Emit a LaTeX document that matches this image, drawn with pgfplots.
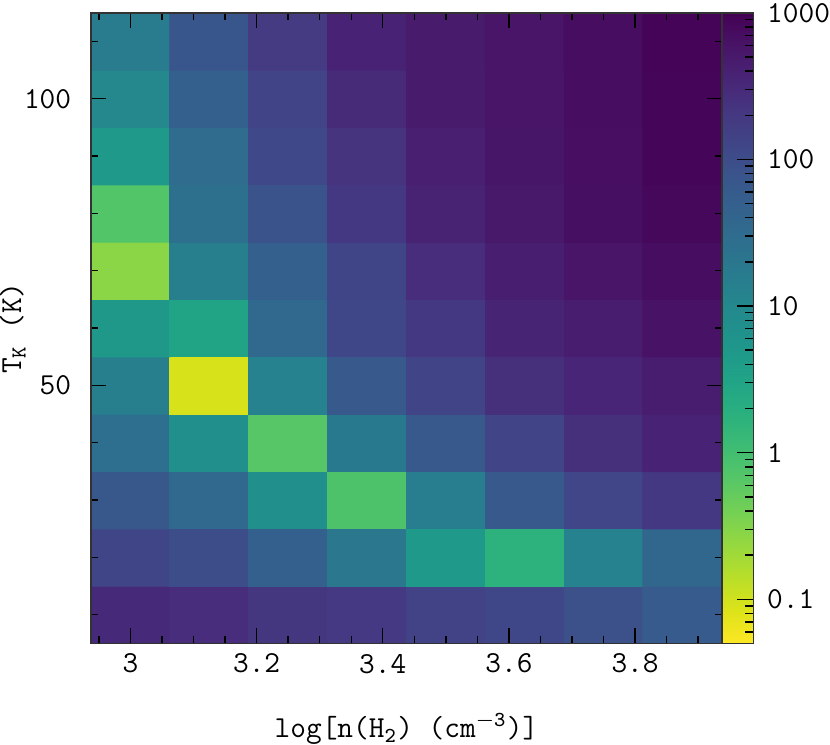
\documentclass[border=0pt]{standalone}
\usepackage{pgfplots}
\pgfplotsset{compat=1.18}
\renewcommand{\familydefault}{\ttdefault}

% viridis, reversed (yellow = low, purple = high)
\pgfplotsset{
  colormap={rviridis}{
    rgb255=(253,231,37) rgb255=(220,227,25) rgb255=(184,222,41) rgb255=(149,216,64)
    rgb255=(115,208,85) rgb255=(85,198,103) rgb255=(60,187,117) rgb255=(41,175,127)
    rgb255=(32,163,135) rgb255=(31,150,139) rgb255=(35,138,141) rgb255=(40,125,142)
    rgb255=(45,112,142) rgb255=(51,99,141) rgb255=(57,86,140) rgb255=(64,70,136)
    rgb255=(69,55,129) rgb255=(72,37,118) rgb255=(72,20,103) rgb255=(68,1,84)},
  colorbar shift/.style={xshift=0pt},
}

\begin{document}
\begin{tikzpicture}
\begin{axis}[
  name=main,
  scale only axis, width=8cm, height=8cm,
  xmin=2.9375, xmax=3.9375, ymin=5, ymax=115,
  enlargelimits=false,
  axis on top,
  font=\fontsize{11}{13}\selectfont,
  /pgf/number format/assume math mode=true,
  xtick={3,3.2,3.4,3.6,3.8},
  minor xtick={2.95,3.05,3.1,3.15,3.25,3.3,3.35,3.45,3.5,3.55,3.65,3.7,3.75,3.85,3.9},
  ytick={50,100},
  minor ytick={10,20,30,40,60,70,80,90,110},
  tick align=inside,
  major tick length=5.5pt, minor tick length=2.6pt,
  every tick/.style={black, line width=0.5pt},
  axis line style={black!80, line width=0.6pt},
  xticklabel style={inner sep=0pt, yshift=-3.6pt},
  yticklabel style={inner sep=0pt, xshift=-7pt},
  xlabel={log[n(H\textsubscript{2}) (cm\textsuperscript{$-$3})]},
  ylabel={T\textsubscript{K} (K)},
  xlabel style={inner sep=0pt, yshift=-14.2pt},
  ylabel style={inner sep=0pt, yshift=-0.8pt},
  colormap name=rviridis,
  point meta min=-1.30103, point meta max=3,
  colorbar,
  colorbar style={
    at={(parent axis.north east)}, anchor=north west, xshift=0pt,
    width=0.4cm,
    ytick={-1,0,1,2,3},
    yticklabels={0.1,1,10,100,1000},
    minor ytick={-1.30103,-1.22185,-1.15490,-1.09691,-1.04576,
      -0.69897,-0.52288,-0.39794,-0.30103,-0.22185,-0.15490,-0.09691,-0.04576,
      0.30103,0.47712,0.60206,0.69897,0.77815,0.84510,0.90309,0.95424,
      1.30103,1.47712,1.60206,1.69897,1.77815,1.84510,1.90309,1.95424,
      2.30103,2.47712,2.60206,2.69897,2.77815,2.84510,2.90309,2.95424},
    ytick pos=right, yticklabel pos=right,
    tick align=inside,
    major tick length=6pt, minor tick length=3pt,
    every tick/.style={black, line width=0.5pt},
    axis line style={black!80, line width=0.6pt},
    yticklabel style={inner sep=0pt, xshift=4.8pt, font=\fontsize{11}{13}\selectfont},
  },
]
\addplot[matrix plot*, mesh/cols=8, point meta={log10(\thisrow{v})}] table {
x      y   v
3.000  10  310
3.125  10  280
3.250  10  215
3.375  10  195
3.500  10  140
3.625  10  120
3.750  10  90
3.875  10  60
3.000  20  130
3.125  20  100
3.250  20  50
3.375  20  20
3.500  20  4.8
3.625  20  1.7
3.750  20  12.5
3.875  20  37
3.000  30  67
3.125  30  34
3.250  30  7
3.375  30  0.8
3.500  30  15.5
3.625  30  65
3.750  30  125
3.875  30  200
3.000  40  28
3.125  40  7
3.250  40  0.67
3.375  40  18
3.500  40  65
3.625  40  135
3.750  40  260
3.875  40  370
3.000  50  14
3.125  50  0.09
3.250  50  12.5
3.375  50  65
3.500  50  135
3.625  50  260
3.750  50  350
3.875  50  470
3.000  60  5
3.125  60  3.1
3.250  60  34
3.375  60  120
3.500  60  200
3.625  60  360
3.750  60  470
3.875  60  610
3.000  70  0.28
3.125  70  14
3.250  70  50
3.375  70  130
3.500  70  280
3.625  70  440
3.750  70  580
3.875  70  720
3.000  80  0.72
3.125  80  26
3.250  80  80
3.375  80  200
3.500  80  380
3.625  80  530
3.750  80  680
3.875  80  830
3.000  90  4.7
3.125  90  31
3.250  90  115
3.375  90  230
3.500  90  420
3.625  90  560
3.750  90  700
3.875  90  870
3.000  100 10
3.125  100 50
3.250  100 135
3.375  100 300
3.500  100 480
3.625  100 580
3.750  100 720
3.875  100 900
3.000  110 17
3.125  110 75
3.250  110 180
3.375  110 370
3.500  110 480
3.625  110 580
3.750  110 720
3.875  110 920
};
\end{axis}
\path (main.north east) ++(0,4.6pt);
\end{tikzpicture}
\end{document}
